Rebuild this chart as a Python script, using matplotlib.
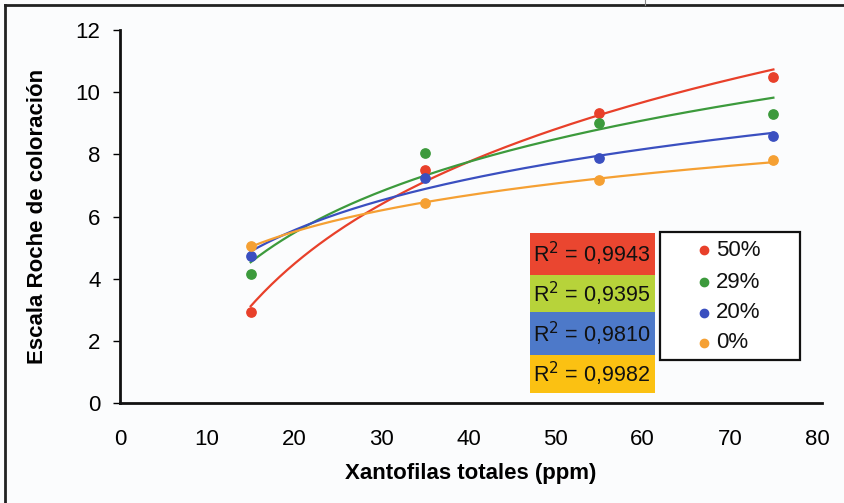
import numpy as np
import matplotlib
matplotlib.use("Agg")
import matplotlib.pyplot as plt
from matplotlib.lines import Line2D
from matplotlib.patches import Rectangle

plt.rcParams['font.family'] = ['Liberation Sans', 'DejaVu Sans']

x_vals = [15, 35, 55, 75]
series_names = ["50%", "29%", "20%", "0%"]
y_50 = [2.93, 7.49, 9.32, 10.50]
y_29 = [4.15, 8.04, 9.00, 9.29]
y_20 = [4.73, 7.23, 7.88, 8.58]
y_0 = [5.05, 6.43, 7.17, 7.81]
r2_labels = ["0,9943", "0,9395", "0,9810", "0,9982"]
colors = ["#e8402a", "#3c9a3c", "#3a4fc0", "#f5a033"]
box_colors = ["#ea4630", "#b7d33a", "#4d79c9", "#fbc112"]
x_ticks = [0, 10, 20, 30, 40, 50, 60, 70, 80]
y_ticks = [0, 2, 4, 6, 8, 10, 12]

fig = plt.figure(figsize=(8.45, 5.03), dpi=100)
fig.patch.set_facecolor("#fbfcfd")
ax = fig.add_axes([0.142, 0.199, 0.831, 0.741])
ax.set_facecolor("#fbfcfd")

xs = np.array(x_vals, dtype=float)
xx = np.linspace(15, 75, 200)
for ys, c, name in zip([y_50, y_29, y_20, y_0], colors, series_names):
    coef = np.polyfit(np.log(xs), np.array(ys), 1)
    ax.plot(xx, coef[0] * np.log(xx) + coef[1], color=c, lw=1.6, zorder=2)
    ax.scatter(xs, ys, s=45, color=c, zorder=3, label=name)

ax.set_xlim(0, 80.6)
ax.set_ylim(0, 12)
ax.set_xticks(x_ticks)
ax.set_yticks(y_ticks)
ax.tick_params(axis='x', length=0, labelsize=16, pad=19)
ax.tick_params(axis='y', length=5, width=1, labelsize=16, pad=9)
for s in ['top', 'right']:
    ax.spines[s].set_visible(False)
for s in ['left', 'bottom']:
    ax.spines[s].set_linewidth(2)
    ax.spines[s].set_color('#111111')
ax.set_xlabel("Xantofilas totales (ppm)", fontsize=16, fontweight='bold', labelpad=9)
ax.set_ylabel("Escala Roche de coloración", fontsize=16, fontweight='bold', labelpad=20)

# R² boxes (figure pixel coordinates)
W, H = 845, 503
box_y = [233, 275, 312, 355, 393]
for i, (lab, bc) in enumerate(zip(r2_labels, box_colors)):
    y0 = box_y[i]
    y1 = box_y[i + 1]
    fig.patches.append(Rectangle((530 / W, 1 - y1 / H), 125 / W, (y1 - y0) / H,
                                 transform=fig.transFigure, facecolor=bc, edgecolor='none', zorder=5))
    fig.text(592 / W, 1 - (y0 + y1) / 2 / H, "R$^2$ = " + lab, ha='center', va='center',
             fontsize=15.5, zorder=6, color='#111111')

# legend box drawn from series names / colours
fig.patches.append(Rectangle((660 / W, 1 - 360 / H), 140 / W, 128 / H, transform=fig.transFigure,
                             facecolor='white', edgecolor='#111111', lw=1.6, zorder=5))
leg_y = [250, 282, 313, 343]
for name, c, yy in zip(series_names, colors, leg_y):
    fig.add_artist(Line2D([704 / W], [1 - yy / H], marker='o', color='none', markerfacecolor=c,
                          markeredgecolor=c, markersize=6, transform=fig.transFigure, zorder=6))
    fig.text(716 / W, 1 - yy / H, name, ha='left', va='center', fontsize=16, zorder=6,
             color='#111111')

# outer frame
fig.add_artist(Line2D([5 / W, 5 / W], [0, 1 - 5 / H], transform=fig.transFigure, color='#222222', lw=2))
fig.add_artist(Line2D([5 / W, 1], [1 - 5 / H, 1 - 5 / H], transform=fig.transFigure, color='#222222', lw=2))
fig.add_artist(Line2D([645 / W, 645 / W], [1 - 5 / H, 1], transform=fig.transFigure, color='#888888', lw=0.8))

fig.savefig("out.png", dpi=100, facecolor=fig.get_facecolor())
